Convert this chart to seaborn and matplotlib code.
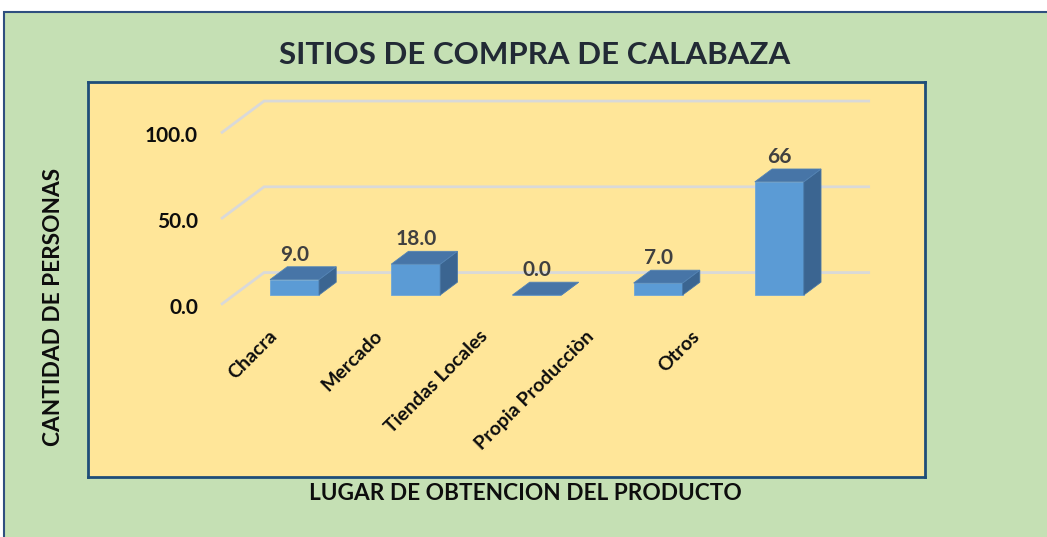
import matplotlib
matplotlib.use('Agg')
import matplotlib.pyplot as plt
from matplotlib.patches import Polygon, Rectangle
import seaborn as sns
import pandas as pd

# ---- data ----
categories = ["Chacra", "Mercado", "Tiendas Locales", "Propia Producciòn", "Otros"]
values = [9.0, 18.0, 0.0, 7.0, 66.0]
value_labels = ["9.0", "18.0", "0.0", "7.0", "66"]
y_ticks = [0, 50, 100]
y_tick_labels = ["0.0", "50.0", "100.0"]
title = "SITIOS DE COMPRA DE CALABAZA"
x_title = "LUGAR DE OBTENCION DEL PRODUCTO"
y_title = "CANTIDAD DE PERSONAS"

plt.rcParams['font.family'] = ['Lato', 'DejaVu Sans']

W, H = 1047, 537
fig = plt.figure(figsize=(W / 100, H / 100), dpi=100, facecolor='white')
frame = Rectangle((4 / W, -0.05), 1.1, 1.05 - 12 / H, transform=fig.transFigure,
                  facecolor='#C5E0B4', edgecolor='#2F4F7F', lw=1.5, zorder=-10)
fig.patches.append(frame)

ax = fig.add_axes([88 / W, 1 - 477 / H, (925 - 88) / W, (477 - 82) / H])
ax.set_zorder(1)
ax.set_facecolor('#FFE699')

# pseudo-3D depth vector (data units) and depth positions
DX, DY = 0.355, 18.7
T0, T1 = 0.30, 0.70
bar_w = 0.404
FRONT = '#5B9BD5'
TOP = '#4775A7'
SIDE = '#3B6591'

df = pd.DataFrame({'cat': categories, 'val': values})
sns.barplot(data=df, x='cat', y='val', order=categories, width=bar_w, color=FRONT,
            saturation=1, errorbar=None, edgecolor='#6FA6D8', linewidth=0.6,
            ax=ax, zorder=4)
bars = list(ax.patches)

# back-wall gridlines with perspective diagonals
n = len(categories)
for v in y_ticks:
    fx, fy = -0.5 - T0 * DX, v - T0 * DY
    bx, by = -0.5 + (1 - T0) * DX, v + (1 - T0) * DY
    ex = n - 0.5 + (1 - T0) * DX
    ax.plot([fx, bx, ex], [fy, by, by], color='#D9D9D9', lw=2, zorder=1,
            solid_joinstyle='miter', solid_capstyle='butt')

# 3D faces
ddx, ddy = (T1 - T0) * DX, (T1 - T0) * DY
for p, lbl in zip(bars, value_labels):
    x0 = p.get_x(); x1 = x0 + p.get_width(); h = p.get_height()
    top = Polygon([(x0, h), (x1, h), (x1 + ddx, h + ddy), (x0 + ddx, h + ddy)],
                  closed=True, fc=TOP, ec='#5283B5', lw=0.6, zorder=5)
    side = Polygon([(x1, 0), (x1, h), (x1 + ddx, h + ddy), (x1 + ddx, ddy)],
                   closed=True, fc=SIDE, ec='#4A78A6', lw=0.6, zorder=5)
    ax.add_patch(side)
    ax.add_patch(top)
    ax.text(x0 + p.get_width() / 2, h + ddy + 7, lbl, ha='center', va='center',
            fontsize=15, fontweight='bold', color='#404040', zorder=6)

# value axis labels (front plane)
for v, lbl in zip(y_ticks, y_tick_labels):
    ax.text(-0.796, v - T0 * DY - 1.8, lbl, ha='right', va='center',
            fontsize=15, fontweight='bold', color='#0D0D0D')

# category labels
for i, c in enumerate(categories):
    ax.text(-0.22 + 0.872 * i, -18.8, c, rotation=45, rotation_mode='anchor',
            ha='right', va='top', fontsize=14, fontweight='bold', color='#0D0D0D')

ax.set_xlim(-1.704, 5.202)
ax.set_ylim(-106.1, 124.2)
ax.set_xticks([]); ax.set_yticks([])
ax.set_xlabel(''); ax.set_ylabel('')
for s in ax.spines.values():
    s.set_color('#1F4E79'); s.set_linewidth(2)

fig.text(535 / W, 1 - 55 / H, title, ha='center', va='center', fontsize=22.5,
         fontweight='bold', color='#222A35')
fig.text(525 / W, 1 - 494 / H, x_title, ha='center', va='center', fontsize=16.3,
         fontweight='bold', color='#0D0D0D')
fig.text(54 / W, 1 - 307 / H, y_title, ha='center', va='center', rotation=90,
         fontsize=16.3, fontweight='bold', color='#0D0D0D')

fig.savefig('out.png', dpi=100, facecolor=fig.get_facecolor())
